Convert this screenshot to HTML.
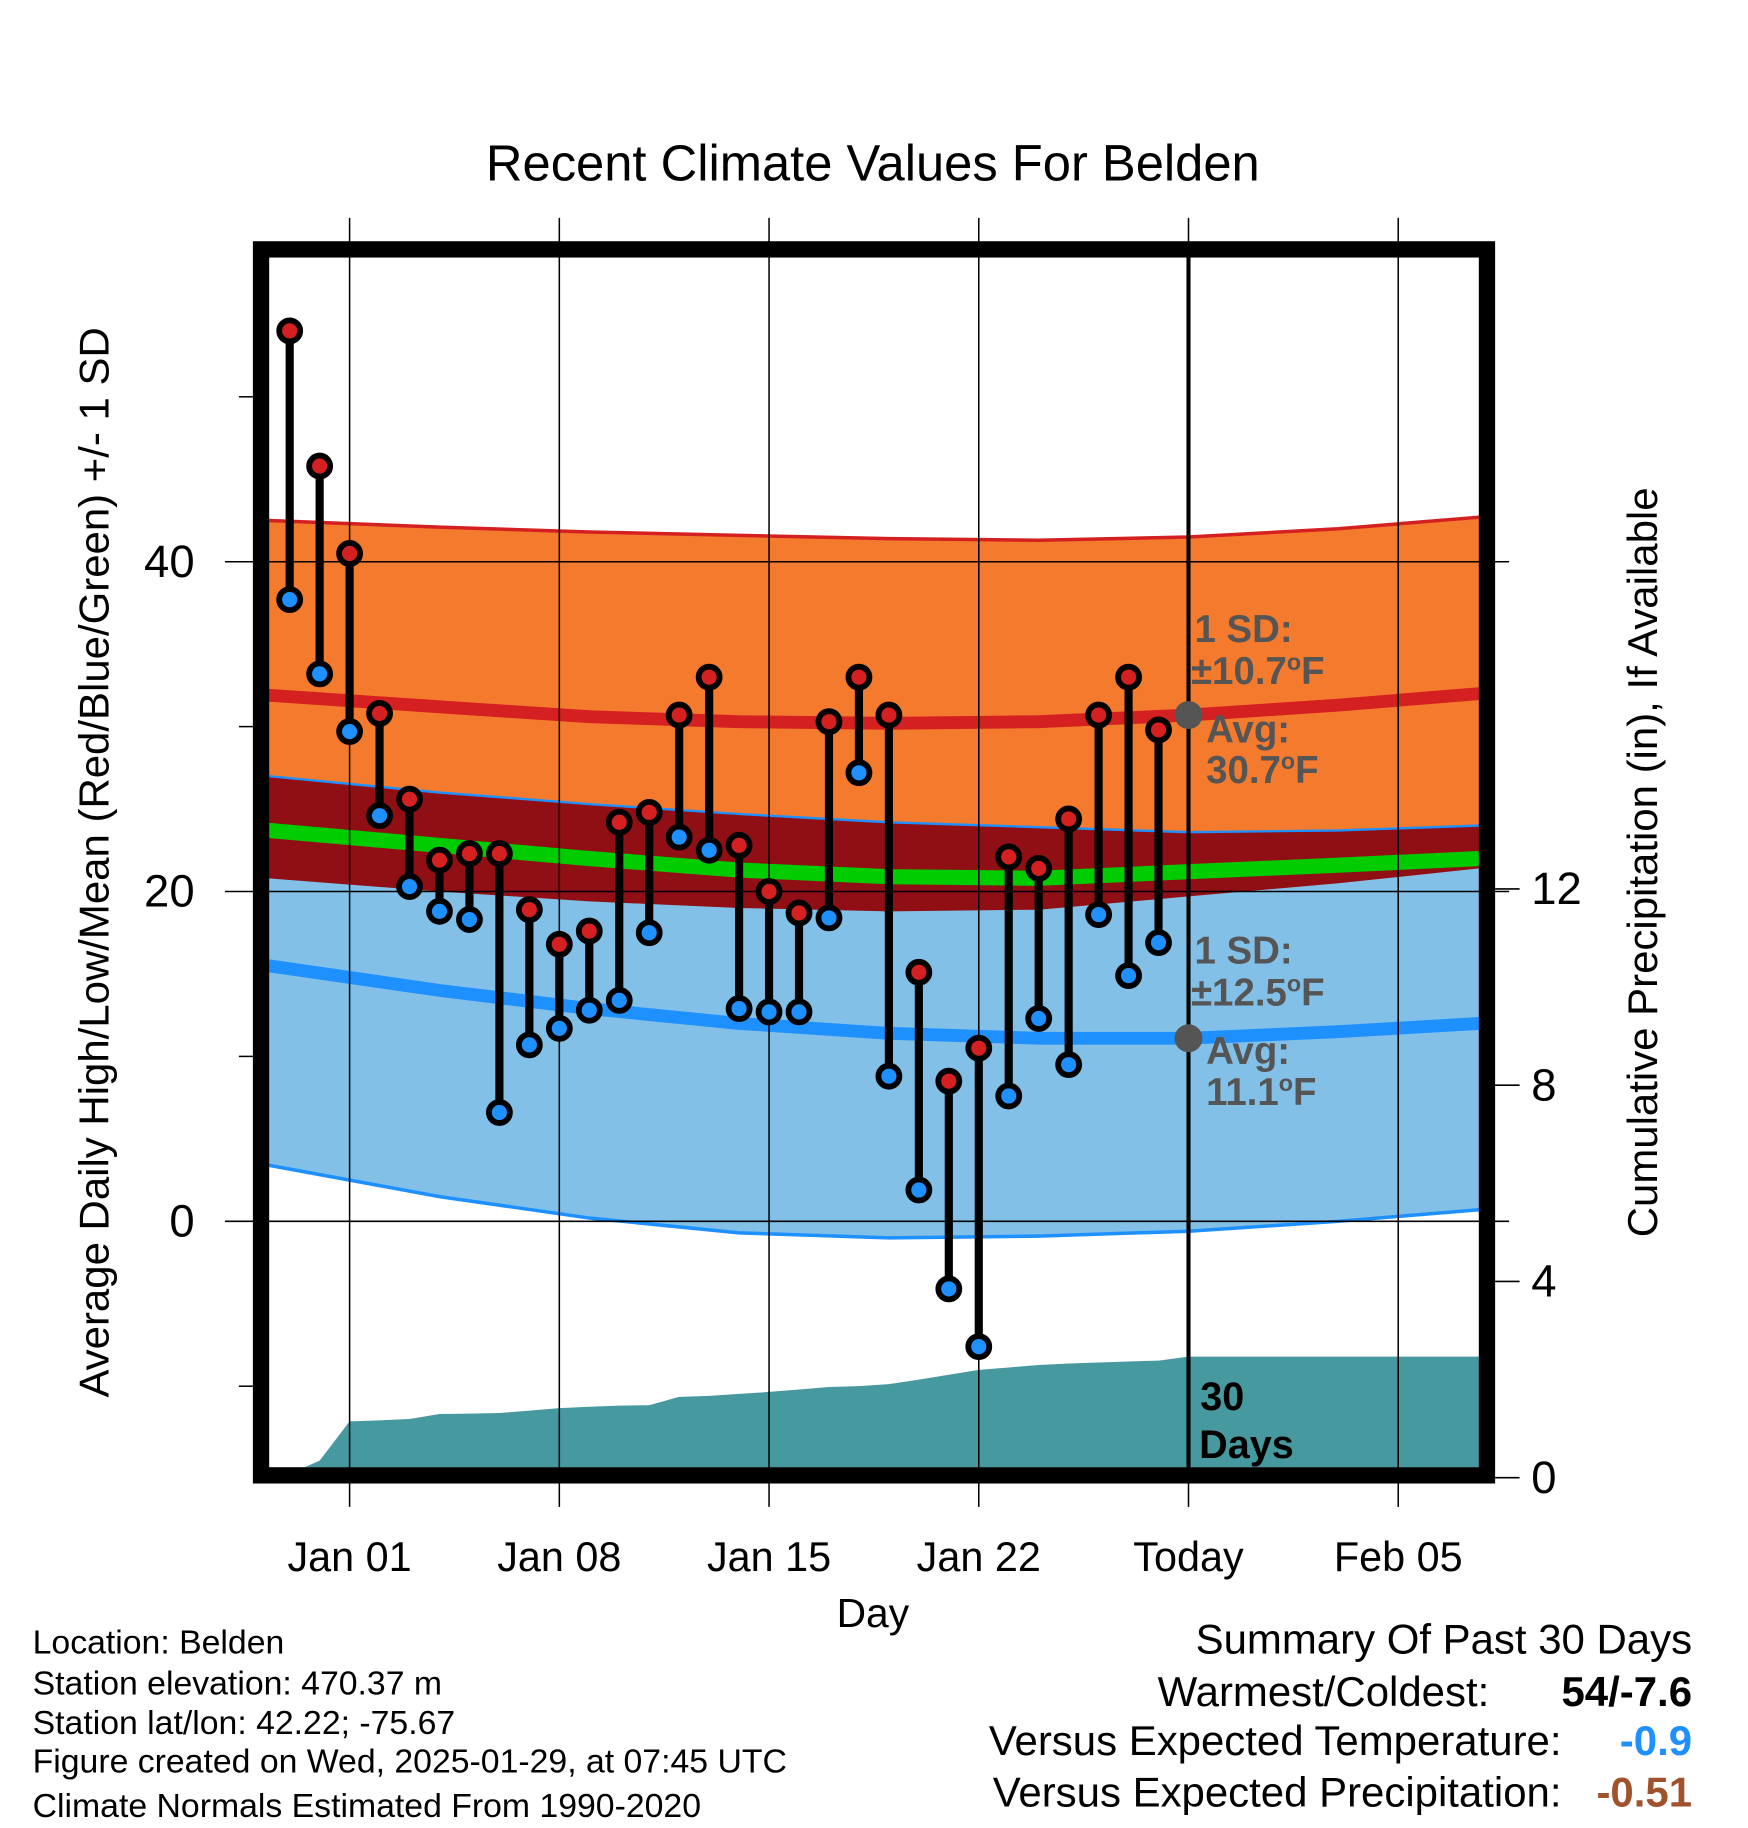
<!DOCTYPE html>
<html><head><meta charset="utf-8"><style>
html,body{margin:0;padding:0;background:#fff}
svg{display:block}
text{font-family:"Liberation Sans",Arial,sans-serif}
</style></head><body>
<svg id="chart" width="1748" height="1828" viewBox="0 0 1500 1568.6" preserveAspectRatio="none" xmlns="http://www.w3.org/2000/svg">
<text x="749" y="155" font-size="43.5" text-anchor="middle">Recent Climate Values For Belden</text>
<g id="bands"></g>
<g id="grid"></g>
<g id="marks"></g>
<rect x="224" y="214" width="1052" height="1052" fill="none" stroke="#000" stroke-width="14"/>
<g id="axes"></g>
<text x="749" y="1396" font-size="35" text-anchor="middle">Day</text>
<text transform="translate(93,740) rotate(-90)" font-size="36" text-anchor="middle">Average Daily High/Low/Mean (Red/Blue/Green) +/- 1 SD</text>
<text transform="translate(1422,740) rotate(-90)" font-size="36" text-anchor="middle">Cumulative Precipitation (in), If Available</text>
<g font-size="33" font-weight="bold" fill="#555">
<text x="1025" y="551">1 SD:</text>
<text x="1022" y="587">±10.7<tspan font-size="20" dy="-12">o</tspan><tspan dy="12">F</tspan></text>
<text x="1035" y="637">Avg:</text>
<text x="1035" y="672">30.7<tspan font-size="20" dy="-12">o</tspan><tspan dy="12">F</tspan></text>
</g>
<g font-size="33" font-weight="bold" fill="#555">
<text x="1025" y="827">1 SD:</text>
<text x="1022" y="863">±12.5<tspan font-size="20" dy="-12">o</tspan><tspan dy="12">F</tspan></text>
<text x="1035" y="913">Avg:</text>
<text x="1035" y="948">11.1<tspan font-size="20" dy="-12">o</tspan><tspan dy="12">F</tspan></text>
</g>
<g font-size="34" font-weight="bold">
<text x="1030" y="1210">30</text><text x="1029" y="1251">Days</text>
</g>
<g font-size="29">
<text x="28" y="1419">Location: Belden</text>
<text x="28" y="1454">Station elevation: 470.37 m</text>
<text x="28" y="1488">Station lat/lon: 42.22; -75.67</text>
<text x="28" y="1521">Figure created on Wed, 2025-01-29, at 07:45 UTC</text>
<text x="28" y="1559">Climate Normals Estimated From 1990-2020</text>
</g>
<g font-size="36" text-anchor="end">
<text x="1452" y="1419">Summary Of Past 30 Days</text>
<text x="1278" y="1464">Warmest/Coldest:</text>
<text x="1452" y="1464" font-weight="bold">54/-7.6</text>
<text x="1340" y="1506">Versus Expected Temperature:</text>
<text x="1452" y="1506" font-weight="bold" fill="#1e90ff">-0.9</text>
<text x="1340" y="1550">Versus Expected Precipitation:</text>
<text x="1452" y="1550" font-weight="bold" fill="#a0522d">-0.51</text>
</g>
</svg>
<script>
const normOffsets=[-2.7,3,8,13,18,23,28,33,37.7];
const highUpper=[42.5,42.1,41.8,41.6,41.4,41.3,41.5,42.0,42.7];
const highMean=[31.9,31.2,30.6,30.3,30.2,30.3,30.7,31.3,32.0];
const highLower=[20.8,20.0,19.4,19.0,18.8,18.9,19.7,20.5,21.4];
const lowUpper=[27.0,26.0,25.3,24.7,24.2,23.9,23.6,23.7,24.0];
const meanLine=[23.7,22.8,22.0,21.3,20.9,20.8,21.2,21.6,22.0];
const lowMean=[15.5,14.0,12.9,12.0,11.4,11.1,11.1,11.5,12.0];
const lowLower=[3.4,1.5,0.2,-0.7,-1.0,-0.9,-0.6,0.0,0.7];
const dayOffsets=[-2,-1,0,1,2,3,4,5,6,7,8,9,10,11,12,13,14,15,16,17,18,19,20,21,22,23,24,25,26,27];
const highs=[54,45.8,40.5,30.8,25.6,21.9,22.3,22.3,18.9,16.8,17.6,24.2,24.8,30.7,33.0,22.8,20.0,18.7,30.3,33.0,30.7,15.1,8.5,10.5,22.1,21.4,24.4,30.7,33.0,29.8];
const lows=[37.7,33.2,29.7,24.6,20.3,18.8,18.3,6.6,10.7,11.7,12.8,13.4,17.5,23.3,22.5,12.9,12.7,12.7,18.4,27.2,8.8,1.9,-4.1,-7.6,7.6,12.3,9.5,18.6,14.9,16.9];
const precipOffsets=[-1.5,-1,0,1,2,3,4,5,6,7,8,9,10,11,12,13,14,15,16,17,18,19,20,21,22,23,24,25,26,27,28,37.7];
const precip=[0,0.3,1.1,1.12,1.15,1.25,1.26,1.27,1.32,1.37,1.4,1.42,1.43,1.6,1.62,1.66,1.7,1.75,1.8,1.82,1.86,1.95,2.05,2.15,2.2,2.25,2.28,2.3,2.32,2.34,2.42,2.42];
const xTickOffsets=[0,7,14,21,28,35];
const xTickLabels=["Jan 01","Jan 08","Jan 15","Jan 22","Today","Feb 05"];
const yTicks=[0,20,40];
const yMinor=[-10,10,30,50];
const y2Ticks=[0,4,8,12];
const todayOffset=28;
const todayHigh=30.7, todayLow=11.1;

const NS="http://www.w3.org/2000/svg";
const X=o=>300+25.71*o;
const Y=v=>1048-14.15*v;
const P=p=>1266-42.1*p;
const L=221,R=1268,T=221,B=1259;
function mk(tag,attrs,parent){const e=document.createElementNS(NS,tag);for(const k in attrs)e.setAttribute(k,attrs[k]);parent.appendChild(e);return e;}
const bands=document.getElementById('bands'),grid=document.getElementById('grid'),marks=document.getElementById('marks'),axes=document.getElementById('axes');
function pts(arr){return normOffsets.map((o,i)=>X(o).toFixed(1)+','+Y(arr[i]).toFixed(1));}
function area(top,bot,fill,name){
  const p=pts(top).concat(pts(bot).reverse()).join(' ');
  const e=mk('polygon',{points:p,fill:fill},bands);
  
  
}
function line(arr,stroke,w,name){
  const e=mk('polyline',{points:pts(arr).join(' '),fill:'none',stroke:stroke,'stroke-width':w},bands);
  
  
}
area(highUpper,highLower,'#f47a2e','high-sd-band');
area(lowUpper,lowLower,'#82c0e8','low-sd-band');
area(lowUpper,highLower,'#8f0f14','overlap-band');
line(highUpper,'#d42020',3,'high-upper-edge');
line(lowUpper,'#1e90ff',2,'low-upper-edge');
line(lowLower,'#1e90ff',3,'low-lower-edge');
line(highMean,'#d42020',11,'normal-high-line');
line(meanLine,'#00cc00',13,'normal-mean-line');
line(lowMean,'#1e90ff',11,'normal-low-line');
{
  let p=precipOffsets.map((o,i)=>X(o).toFixed(1)+','+Math.min(P(precip[i]),B).toFixed(1));
  p.push(X(37.7)+','+B, X(-1.5)+','+B);
  const e=mk('polygon',{points:p.join(' '),fill:'#4799a0'},bands);
  
  
}
xTickOffsets.forEach((o,i)=>{
  const g=mk('line',{x1:X(o),x2:X(o),y1:187,y2:1293,stroke:'#000','stroke-width':1.3},grid);
  
  
  const t=mk('text',{x:X(o),y:1348,'font-size':35.5,'text-anchor':'middle'},axes);
  t.textContent=xTickLabels[i];
  
  
});
yTicks.forEach(v=>{
  const g=mk('line',{x1:193,x2:1295,y1:Y(v),y2:Y(v),stroke:'#000','stroke-width':1.3},grid);
  
  
  const t=mk('text',{x:167,y:Y(v)+13,'font-size':39,'text-anchor':'end'},axes);
  t.textContent=v;
  
  
});
yMinor.forEach(v=>{
  const g=mk('line',{x1:205,x2:217,y1:Y(v),y2:Y(v),stroke:'#000','stroke-width':1.3},axes);
  
  
});
y2Ticks.forEach(v=>{
  const g=mk('line',{x1:1283,x2:1304,y1:P(v)+2,y2:P(v)+2,stroke:'#000','stroke-width':1.3},axes);
  
  
  const t=mk('text',{x:1314,y:P(v)+15,'font-size':39},axes);
  t.textContent=v;
  
  
});
{
  const e=mk('line',{x1:X(todayOffset),x2:X(todayOffset),y1:T,y2:B,stroke:'#000','stroke-width':3.5},marks);
  
  
  const c1=mk('circle',{cx:X(todayOffset),cy:Y(todayHigh),r:12,fill:'#555'},marks);
  
  
  const c2=mk('circle',{cx:X(todayOffset),cy:Y(todayLow),r:12,fill:'#555'},marks);
  
  
}
dayOffsets.forEach((o,i)=>{
  const x=X(o);
  const l=mk('line',{x1:x,x2:x,y1:Y(highs[i]),y2:Y(lows[i]),stroke:'#000','stroke-width':7},marks);
  
  
  const h=mk('circle',{cx:x,cy:Y(highs[i]),r:9,fill:'#d42020',stroke:'#000','stroke-width':5},marks);
  
  
  const lo=mk('circle',{cx:x,cy:Y(lows[i]),r:9,fill:'#1e90ff',stroke:'#000','stroke-width':5},marks);
  
  
});
</script>
</body></html>
